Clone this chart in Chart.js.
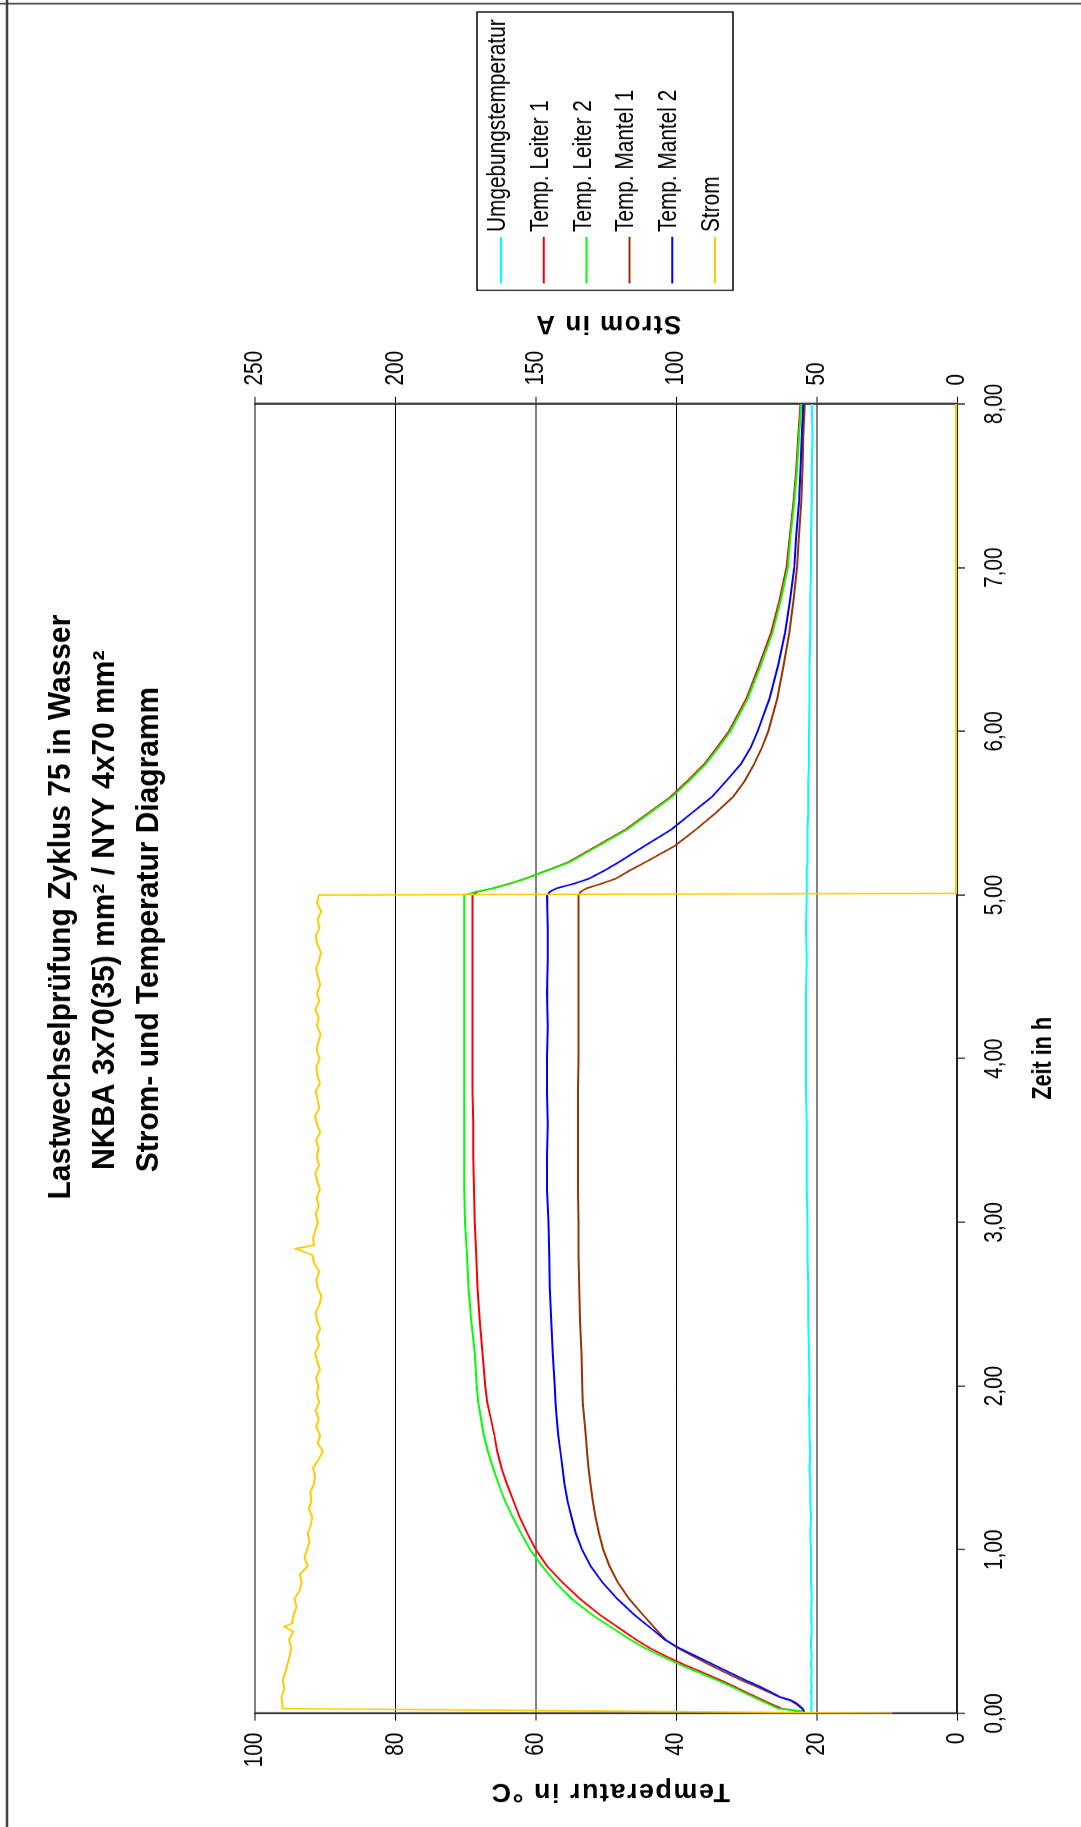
<!DOCTYPE html>
<html>
<head>
<meta charset="utf-8">
<script src="https://cdn.jsdelivr.net/npm/chart.js"></script>
<style>
  html, body { margin: 0; padding: 0; background: #fff; overflow: hidden; width: 1081px; height: 1827px; }
  #lastChart { position: absolute; left: 0; top: 0; display: block;
    transform-origin: 0 0; transform: translate(0px, 1827px) rotate(-90deg) scale(0.79991, 1); }
</style>
</head>
<body>
<canvas id="lastChart" width="2284" height="1081"></canvas>
<script>
// Zeit in h (Temperaturmessungen)
var zeitH = [
  0.01, 0.03, 0.06, 0.08, 0.10, 0.13, 0.17, 0.20, 0.25, 0.30,
  0.35, 0.40, 0.45, 0.50, 0.60, 0.70, 0.80, 0.90, 1.00, 1.10,
  1.20, 1.30, 1.40, 1.50, 1.60, 1.70, 1.80, 1.90, 2.00, 2.20,
  2.40, 2.60, 2.80, 3.00, 3.20, 3.40, 3.60, 3.80, 4.00, 4.20,
  4.40, 4.60, 4.80, 5.00, 5.02, 5.04, 5.07, 5.10, 5.15, 5.20,
  5.30, 5.40, 5.50, 5.60, 5.70, 5.80, 5.90, 6.00, 6.20, 6.40,
  6.60, 6.80, 7.00, 7.20, 7.40, 7.60, 7.80, 8.00
];
var umgebung = [
  20.7, 20.8, 20.7, 20.8, 20.7, 20.8, 20.7, 20.8, 20.7, 20.8,
  20.7, 20.8, 20.8, 20.7, 20.8, 20.7, 20.8, 20.8, 20.8, 20.9,
  20.8, 20.9, 20.9, 21.0, 20.9, 21.0, 21.0, 21.1, 21.0, 21.1,
  21.2, 21.2, 21.3, 21.3, 21.4, 21.4, 21.4, 21.5, 21.5, 21.5,
  21.5, 21.4, 21.5, 21.4, 21.4, 21.4, 21.4, 21.4, 21.4, 21.3,
  21.3, 21.3, 21.2, 21.2, 21.2, 21.1, 21.1, 21.1, 21.0, 21.0,
  20.9, 20.9, 20.8, 20.8, 20.7, 20.7, 20.6, 20.7
];
var leiter1 = [
  21.9, 25.0, 26.6, 27.6, 28.6, 30.1, 32.0, 33.5, 36.2, 39.0,
  41.5, 43.8, 45.7, 47.4, 50.8, 53.7, 56.2, 58.4, 60.0, 61.2,
  62.3, 63.2, 64.1, 64.9, 65.5, 65.9, 66.4, 66.9, 67.2, 67.6,
  68.0, 68.3, 68.5, 68.7, 68.8, 68.9, 68.9, 69.0, 69.0, 69.0,
  69.0, 69.0, 69.0, 69.0, 68.3, 66.2, 63.7, 61.5, 58.4, 55.4,
  51.3, 47.2, 44.0, 40.8, 38.3, 36.0, 34.2, 32.5, 30.0, 28.2,
  26.5, 25.3, 24.3, 23.8, 23.3, 22.9, 22.6, 22.3
];
var leiter2 = [
  21.9, 25.5, 27.0, 28.0, 29.0, 30.5, 32.4, 34.0, 36.8, 39.6,
  42.1, 44.5, 46.5, 48.3, 51.9, 54.9, 57.2, 59.1, 60.8, 62.1,
  63.3, 64.4, 65.3, 66.1, 66.8, 67.4, 67.8, 68.2, 68.4, 68.7,
  69.2, 69.6, 69.8, 70.1, 70.2, 70.2, 70.2, 70.2, 70.2, 70.2,
  70.2, 70.2, 70.2, 70.2, 68.5, 66.1, 63.6, 61.4, 58.3, 55.2,
  51.1, 47.0, 43.8, 40.6, 38.1, 35.8, 34.0, 32.3, 29.8, 28.0,
  26.3, 25.1, 24.1, 23.7, 23.2, 22.8, 22.5, 22.2
];
var mantel1 = [
  21.8, 22.1, 23.0, 23.8, 25.3, 26.8, 28.9, 30.6, 33.0, 35.4,
  37.6, 39.8, 41.5, 42.6, 44.7, 46.7, 48.3, 49.5, 50.4, 51.0,
  51.5, 51.9, 52.2, 52.5, 52.7, 52.9, 53.1, 53.3, 53.4, 53.5,
  53.7, 53.8, 53.9, 53.9, 54.0, 54.0, 54.0, 54.0, 53.9, 53.9,
  53.9, 53.9, 53.9, 53.9, 53.6, 52.8, 50.6, 48.6, 46.6, 44.4,
  40.2, 37.2, 34.4, 31.9, 30.2, 28.9, 27.8, 26.9, 25.6, 24.7,
  23.9, 23.3, 22.8, 22.5, 22.2, 22.0, 21.9, 21.7
];
var mantel2 = [
  21.8, 22.0, 22.8, 23.6, 25.2, 26.5, 28.4, 30.0, 32.4, 34.8,
  37.2, 39.6, 41.6, 43.0, 45.9, 48.4, 50.5, 52.2, 53.4, 54.3,
  54.9, 55.5, 55.9, 56.2, 56.5, 56.8, 57.0, 57.2, 57.3, 57.6,
  57.8, 58.0, 58.1, 58.2, 58.4, 58.4, 58.3, 58.4, 58.4, 58.3,
  58.4, 58.3, 58.3, 58.4, 58.0, 57.1, 54.5, 52.4, 50.2, 48.2,
  44.5, 40.7, 37.8, 34.9, 32.8, 30.8, 29.4, 28.4, 26.7, 25.5,
  24.5, 23.8, 23.2, 22.9, 22.5, 22.3, 22.1, 21.9
];

// Strom in A, eigene Zeitachse
var stromZeit = [
  0, 0.03, 0.05, 0.10, 0.15, 0.20, 0.25, 0.30, 0.35, 0.40, 0.45, 0.50, 0.53, 0.55,
  0.60, 0.65, 0.70, 0.75, 0.80, 0.85, 0.90, 0.95, 1.00, 1.05,
  1.10, 1.15, 1.20, 1.25, 1.30, 1.35, 1.40, 1.45, 1.50, 1.55,
  1.60, 1.65, 1.70, 1.75, 1.80, 1.85, 1.90, 1.95, 2.00, 2.05,
  2.10, 2.15, 2.20, 2.25, 2.30, 2.35, 2.40, 2.45, 2.50, 2.55,
  2.60, 2.65, 2.70, 2.75, 2.80, 2.84, 2.86,
  2.90, 2.95, 3.00, 3.05, 3.10, 3.15, 3.20, 3.25, 3.30, 3.35,
  3.40, 3.45, 3.50, 3.55, 3.60, 3.65, 3.70, 3.75, 3.80, 3.85,
  3.90, 3.95, 4.00, 4.05, 4.10, 4.15, 4.20, 4.25, 4.30, 4.35,
  4.40, 4.45, 4.50, 4.55, 4.60, 4.65, 4.70, 4.75, 4.80, 4.85,
  4.90, 4.95, 5.00, 5.01, 8.00
];
var stromA = [
  23.0, 240.3, 240.2, 240.6, 239.5, 240.1, 239.2, 238.4, 237.6, 237.1, 237.9, 236.4, 239.5, 236.8,
  236.3, 235.2, 235.9, 234.1, 233.4, 234.0, 231.2, 232.4, 231.5, 230.6,
  231.2, 230.1, 229.6, 230.8, 229.9, 230.3, 229.1, 228.6, 229.3, 227.4,
  225.8, 227.6, 226.9, 228.2, 227.3, 228.4, 227.1, 228.0, 227.4, 228.3,
  226.9, 227.8, 228.6, 227.2, 228.1, 226.8, 227.9, 228.4, 227.0, 226.3,
  227.7, 228.2, 227.1, 228.9, 229.6, 235.5, 229.0,
  229.3, 228.5, 227.6, 228.4, 227.3, 228.1, 226.9, 227.8, 228.5, 227.2,
  228.0, 227.4, 228.3, 226.8, 227.9, 228.6, 227.1, 227.7, 228.4, 226.9,
  227.8, 228.2, 227.0, 228.1, 227.5, 226.6, 228.0, 227.3, 228.5, 227.1,
  227.9, 226.8, 227.6, 228.3, 227.2, 226.5, 227.8, 228.4, 227.0, 227.7,
  226.4, 227.9, 227.3, 0.4, 0.4
];

var titelZeilen = [
  'Lastwechselprüfung Zyklus 75 in Wasser',
  'NKBA 3x70(35) mm² / NYY 4x70 mm²',
  'Strom- und Temperatur Diagramm'
];

var S = 1827 / 2284; // the sheet is squeezed this much along the time axis
var FONT = '"Liberation Sans", Arial, sans-serif';

Chart.defaults.font.family = FONT;
Chart.defaults.color = '#000';

function pts(xs, ys) {
  return xs.map(function (x, i) { return { x: x, y: ys[i] }; });
}

function line(label, xs, ys, color, axis, order) {
  return {
    label: label,
    data: pts(xs, ys),
    borderColor: color,
    backgroundColor: color,
    borderWidth: 2,
    pointRadius: 0,
    tension: 0,
    fill: false,
    yAxisID: axis,
    order: order
  };
}

function gridColor(ctx, half) {
  if (!ctx.tick) return '#000';
  return ctx.tick.value % (2 * half) === half ? '#808080' : '#000';
}
function gridWidth(ctx, half) {
  if (!ctx.tick) return 1;
  return ctx.tick.value % (2 * half) === half ? 2 : 1;
}

function turnedText(ctx, text, x, y, font, spacing) {
  ctx.save();
  ctx.translate(x, y);
  ctx.scale(1 / S, 1);
  ctx.rotate(-Math.PI / 2);
  ctx.font = font;
  ctx.letterSpacing = spacing;
  ctx.textAlign = 'center';
  ctx.textBaseline = 'middle';
  ctx.fillStyle = '#000';
  ctx.fillText(text, 0, 0);
  ctx.restore();
}

var sheetPlugin = {
  id: 'sheet',
  beforeDraw: function (chart) {
    var ctx = chart.ctx;
    ctx.save();
    ctx.fillStyle = '#fff';
    ctx.fillRect(0, 0, chart.width, chart.height);
    ctx.restore();
  },
  afterDraw: function (chart) {
    var ctx = chart.ctx;
    ctx.save();

    // frame
    ctx.strokeStyle = '#404040';
    ctx.lineWidth = 2.5;
    ctx.beginPath();
    ctx.moveTo(0, 7);
    ctx.lineTo(chart.width, 7);
    ctx.stroke();
    ctx.lineWidth = 1.9;
    ctx.beginPath();
    ctx.moveTo(2279.4, 0);
    ctx.lineTo(2279.4, chart.height);
    ctx.stroke();

    // title
    ctx.fillStyle = '#000';
    ctx.font = 'bold 31px ' + FONT;
    ctx.textAlign = 'center';
    ctx.textBaseline = 'alphabetic';
    var k = 731 / ctx.measureText(titelZeilen[0]).width;
    var base = [70, 114, 158];
    var mitte = [1150, 1146, 1122];
    titelZeilen.forEach(function (t, i) {
      ctx.save();
      ctx.translate(mitte[i], base[i]);
      ctx.scale(k, 1);
      ctx.fillText(t, 0, 0);
      ctx.restore();
    });

    // axis titles
    ctx.font = 'bold 27px ' + FONT;
    ctx.fillText('Zeit in h', 961, 1051);
    turnedText(ctx, 'Temperatur in °C', 45, 610, 'bold 27px ' + FONT, '1.5px');
    turnedText(ctx, 'Strom in A', 1880, 608, 'bold 26px ' + FONT, '1.5px');

    // legend
    ctx.strokeStyle = '#000';
    ctx.lineWidth = 1.5;
    ctx.strokeRect(1921, 477, 348, 256);
    ctx.font = '26px ' + FONT;
    ctx.textAlign = 'left';
    chart.data.datasets.forEach(function (ds, i) {
      var y = 501 + i * 42.8;
      ctx.strokeStyle = ds.borderColor;
      ctx.lineWidth = 2;
      ctx.beginPath();
      ctx.moveTo(1929.6, y);
      ctx.lineTo(1988, y);
      ctx.stroke();
      ctx.fillStyle = '#000';
      ctx.fillText(ds.label, 1994, y + 4);
    });

    ctx.restore();
  }
};

var chartCtx = document.getElementById('lastChart').getContext('2d');
var lastChart = new Chart(chartCtx, {
  type: 'line',
  data: {
    datasets: [
      line('Umgebungstemperatur', zeitH, umgebung, '#00FFFF', 'y', 5),
      line('Temp. Leiter 1', zeitH, leiter1, '#FF0000', 'y', 2),
      line('Temp. Leiter 2', zeitH, leiter2, '#00FF00', 'y', 1),
      line('Temp. Mantel 1', zeitH, mantel1, '#993300', 'y', 4),
      line('Temp. Mantel 2', zeitH, mantel2, '#0000FF', 'y', 3),
      line('Strom', stromZeit, stromA, '#FFCC00', 'y2', 0)
    ]
  },
  options: {
    responsive: false,
    devicePixelRatio: 1,
    animation: false,
    layout: {
      padding: { top: 255, left: 0, right: 0, bottom: 0 }
    },
    plugins: {
      legend: { display: false },
      tooltip: { enabled: false },
      title: { display: false }
    },
    scales: {
      x: {
        type: 'linear',
        min: 0,
        max: 8,
        ticks: {
          stepSize: 1,
          padding: 14,
          font: { size: 26 },
          callback: function (v) { return v.toFixed(2).replace('.', ','); }
        },
        grid: {
          drawOnChartArea: false,
          tickLength: 8,
          color: '#555',
          lineWidth: 2
        },
        border: { color: '#222', width: 2 },
        afterFit: function (scale) { scale.height = 124; }
      },
      y: {
        position: 'left',
        min: 0,
        max: 100,
        ticks: {
          stepSize: 20,
          padding: 15,
          font: { size: 26 }
        },
        grid: {
          tickLength: 9,
          color: function (c) { return gridColor(c, 20); },
          lineWidth: function (c) { return gridWidth(c, 20); }
        },
        border: { color: '#333', width: 2.5 },
        afterFit: function (scale) { scale.width = 142; }
      },
      y2: {
        position: 'right',
        min: 0,
        max: 250,
        ticks: {
          stepSize: 50,
          padding: 14,
          font: { size: 26 }
        },
        grid: {
          drawOnChartArea: false,
          tickLength: 9,
          color: function (c) { return gridColor(c, 50); },
          lineWidth: function (c) { return gridWidth(c, 50); }
        },
        border: { color: '#333', width: 2.5 },
        afterFit: function (scale) { scale.width = 505; }
      }
    }
  },
  plugins: [sheetPlugin]
});
</script>
</body>
</html>
